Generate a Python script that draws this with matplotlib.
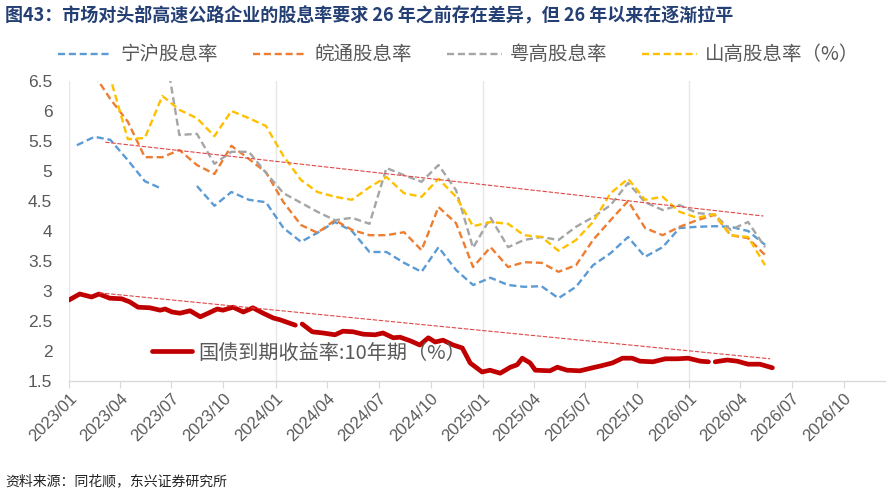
import numpy as np
import pandas as pd
import matplotlib
matplotlib.use("Agg")
import matplotlib.pyplot as plt
import matplotlib.dates as mdates

plt.rcParams['font.family'] = ['Noto Sans CJK SC', 'DejaVu Sans']

nan = np.nan
# monthly dividend yields (mid-month), 2023/01 .. 2026/05
months = pd.date_range("2023-01-01", periods=41, freq="MS") + pd.Timedelta(days=14)
ninghu = [5.43, 5.57, 5.52, 5.18, 4.83, 4.70, nan, 4.75, 4.42, 4.65, 4.52, 4.48,
          4.05, 3.82, 3.97, 4.15, 4.00, 3.65, 3.65, 3.47, 3.32, 3.73, 3.35, 3.10,
          3.22, 3.10, 3.07, 3.08, 2.88, 3.07, 3.43, 3.63, 3.90, 3.57, 3.73, 4.05,
          4.07, 4.08, 4.07, 4.00, 3.77]
wantong = [nan, 6.60, 6.20, 5.82, 5.23, 5.23, 5.35, 5.10, 4.95, 5.42, 5.20, 4.98,
           4.48, 4.10, 3.97, 4.18, 4.02, 3.93, 3.93, 3.98, 3.68, 4.40, 4.13, 3.40,
           3.73, 3.40, 3.48, 3.47, 3.32, 3.43, 3.85, 4.18, 4.50, 4.05, 3.93, 4.07,
           4.18, 4.27, 3.93, 3.88, 3.60]
yuegao = [nan, nan, nan, nan, nan, 7.30, 5.60, 5.62, 5.12, 5.32, 5.32, 4.97,
          4.63, 4.47, 4.32, 4.18, 4.22, 4.12, 5.05, 4.93, 4.82, 5.10, 4.68, 3.72,
          4.22, 3.73, 3.85, 3.90, 3.85, 4.07, 4.23, 4.43, 4.80, 4.48, 4.35, 4.43,
          4.30, 4.27, 4.02, 4.15, 3.73]
shangao = [nan, 7.30, 6.55, 5.53, 5.55, 6.25, 6.02, 5.88, 5.58, 6.00, 5.88, 5.75,
           5.25, 4.85, 4.65, 4.57, 4.52, 4.73, 4.90, 4.63, 4.57, 4.87, 4.57, 4.08,
           4.15, 4.12, 3.93, 3.90, 3.67, 3.85, 4.15, 4.63, 4.87, 4.52, 4.57, 4.32,
           4.22, 4.28, 3.93, 3.90, 3.43]

# 10y government bond yield
bond_dates = ["2023-01-01", "2023-01-20", "2023-02-10", "2023-02-23", "2023-03-14",
              "2023-04-04", "2023-04-18", "2023-05-03", "2023-05-24", "2023-06-11",
              "2023-06-20", "2023-07-02", "2023-07-16", "2023-08-03", "2023-08-21",
              "2023-09-04", "2023-09-20", "2023-09-30", "2023-10-18", "2023-11-05",
              "2023-11-22", "2023-12-10", "2023-12-28", "2024-01-09", "2024-01-21",
              "2024-02-05", "2024-02-11", "2024-02-17", "2024-03-06", "2024-03-25",
              "2024-04-15", "2024-04-29", "2024-05-17", "2024-06-04", "2024-06-25",
              "2024-07-09", "2024-07-27", "2024-08-08", "2024-08-26", "2024-09-12",
              "2024-09-27", "2024-10-09", "2024-10-23", "2024-11-10", "2024-11-26",
              "2024-12-10", "2024-12-31", "2025-01-14", "2025-02-01", "2025-02-19",
              "2025-03-03", "2025-03-12", "2025-03-26", "2025-04-04", "2025-04-30",
              "2025-05-13", "2025-05-30", "2025-06-22", "2025-07-14", "2025-07-28",
              "2025-08-18", "2025-09-05", "2025-09-22", "2025-10-06", "2025-10-29",
              "2025-11-20", "2025-12-11", "2025-12-30", "2026-01-21", "2026-02-04",
              "2026-02-10", "2026-02-16", "2026-03-09", "2026-03-27", "2026-04-15",
              "2026-05-06", "2026-05-28"]
bond_yield = [2.85, 2.95, 2.90, 2.95, 2.88, 2.87, 2.82, 2.73, 2.72, 2.68,
              2.70, 2.65, 2.63, 2.67, 2.57, 2.63, 2.70, 2.68, 2.73, 2.65,
              2.72, 2.63, 2.55, 2.52, 2.48, 2.43, nan, 2.45, 2.32, 2.30,
              2.27, 2.33, 2.32, 2.28, 2.27, 2.30, 2.22, 2.23, 2.17, 2.10,
              2.22, 2.15, 2.18, 2.10, 2.05, 1.80, 1.65, 1.68, 1.63, 1.73,
              1.77, 1.88, 1.80, 1.68, 1.67, 1.73, 1.68, 1.67, 1.72, 1.75,
              1.80, 1.88, 1.88, 1.83, 1.82, 1.87, 1.87, 1.88, 1.83, 1.82,
              nan, 1.82, 1.85, 1.83, 1.78, 1.78, 1.72]

# trend lines
trend_dates = ["2023-03-06", "2026-05-12"]
trend_upper = [5.48, 4.25]
trend_dates_low = ["2023-02-23", "2026-05-24"]
trend_lower = [2.97, 1.87]

series_names = ["宁沪股息率", "皖通股息率", "粤高股息率", "山高股息率（%）"]
series_colors = ["#5B9BD5", "#ED7D31", "#A5A5A5", "#FFC000"]
bond_name = "国债到期收益率:10年期（%）"

fig = plt.figure(figsize=(8.9, 4.94), dpi=100)
ax = fig.add_axes([69 / 890, 1 - 381 / 494, 816 / 890, 300 / 494])

dash = (3, 1.6)
handles = []
for vals, col, name in zip([ninghu, wantong, yuegao, shangao], series_colors, series_names):
    h, = ax.plot(months, vals, color=col, lw=1.7, linestyle=(0, dash), label=name)
    handles.append(h)

bd = pd.to_datetime(bond_dates)
hb, = ax.plot(bd, bond_yield, color="#C00000", lw=3.4, solid_capstyle="round",
              solid_joinstyle="round", label=bond_name)

ax.plot(pd.to_datetime(trend_dates), trend_upper, color="#E04848", lw=0.8,
        linestyle=(0, (4, 1.5)))
ax.plot(pd.to_datetime(trend_dates_low), trend_lower, color="#E04848", lw=0.8,
        linestyle=(0, (4, 1.5)))

ax.set_ylim(1.5, 6.5)
ax.set_yticks(np.arange(1.5, 6.51, 0.5))
ax.set_yticklabels([f"{v:g}" for v in np.arange(1.5, 6.51, 0.5)],
                   family="Liberation Sans", fontsize=12.5, color="#595959")
ax.set_xlim(pd.Timestamp("2023-01-01"), pd.Timestamp("2026-12-13"))
ax.xaxis.set_major_locator(mdates.MonthLocator(bymonth=[1, 4, 7, 10]))
ax.xaxis.set_major_formatter(mdates.DateFormatter("%Y/%m"))
for lab in ax.get_xticklabels():
    lab.set_family("Liberation Sans")
ax.tick_params(axis="x", labelsize=12, colors="#595959", rotation=45,
               length=5, width=0.8, color="#D9D9D9", pad=2)
plt.setp(ax.get_xticklabels(), ha="right", rotation_mode="anchor")
ax.tick_params(axis="y", length=0, pad=12)

for y in ["2023-01-01", "2024-01-01", "2025-01-01", "2026-01-01"]:
    ax.axvline(pd.Timestamp(y), color="#E6E6E6", lw=1, zorder=0)

for s in ["top", "right", "left"]:
    ax.spines[s].set_visible(False)
ax.spines["bottom"].set_color("#D9D9D9")
ax.spines["bottom"].set_linewidth(1)

fig.legend(handles=handles, loc="center left", bbox_to_anchor=(58 / 890, 1 - 55 / 494),
           ncol=4, frameon=False, fontsize=14, handlelength=2.8, handletextpad=0.4,
           columnspacing=1.8, borderpad=0, borderaxespad=0, labelcolor="#595959")
fig.legend(handles=[hb], loc="center left", bbox_to_anchor=(152 / 890, 1 - 353 / 494),
           frameon=False, fontsize=14.5, handlelength=2.0, handletextpad=0.3,
           borderpad=0, borderaxespad=0, labelcolor="#595959")

fig.text(5 / 890, 1 - 15 / 494,
         "图43：市场对头部高速公路企业的股息率要求 26 年之前存在差异，但 26 年以来在逐渐拉平",
         fontsize=13, fontweight="bold", color="#243F73", va="center", ha="left")
fig.text(5 / 890, 1 - 481 / 494, "资料来源：同花顺，东兴证券研究所",
         fontsize=10, color="#222222", va="center", ha="left", style="italic")

fig.savefig("out.png", dpi=100)
